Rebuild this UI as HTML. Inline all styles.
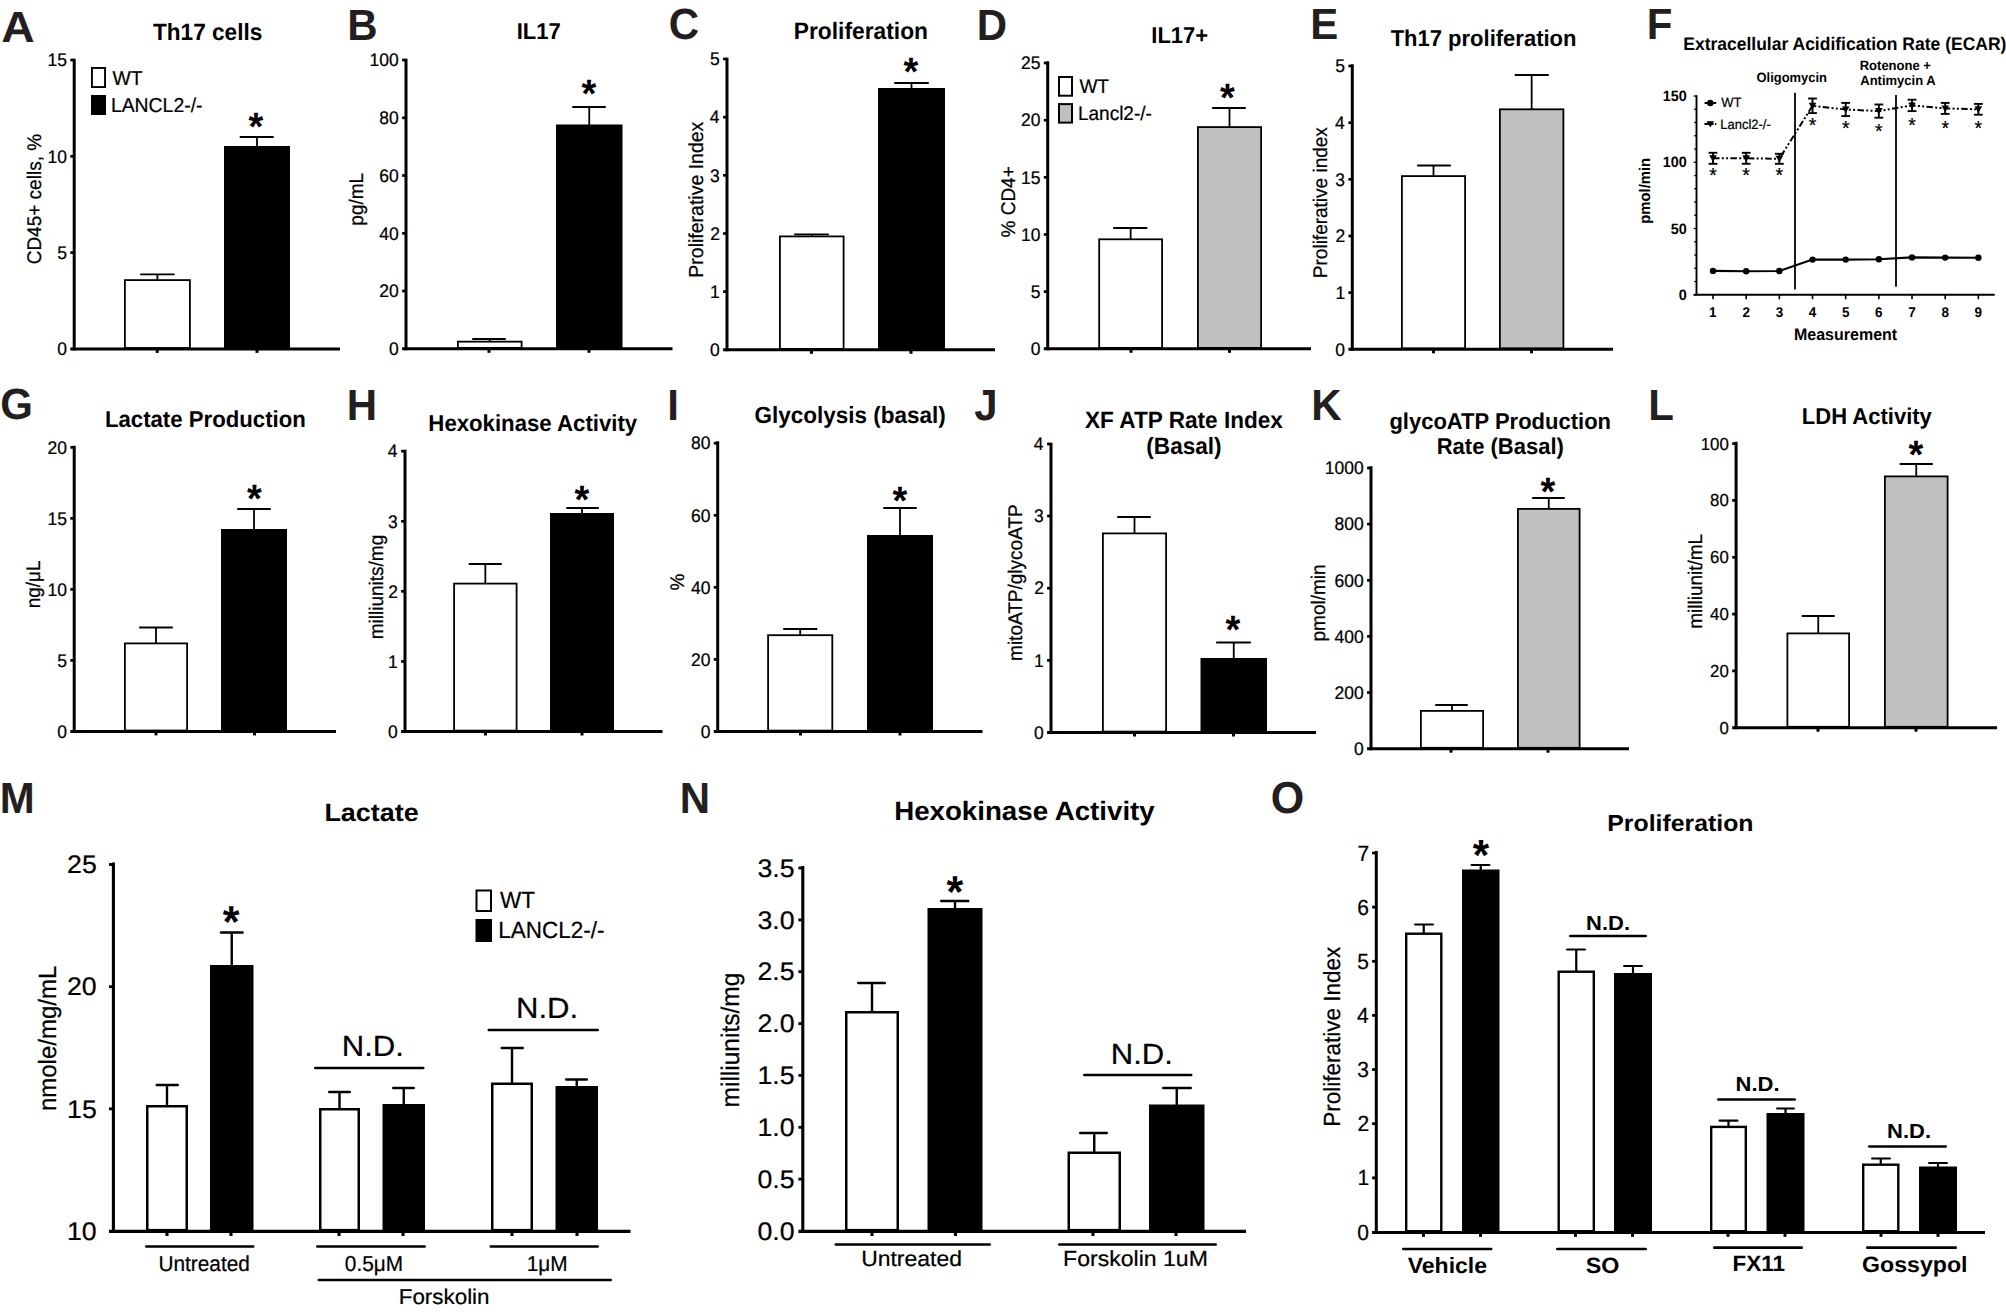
<!DOCTYPE html>
<html lang="en"><head><meta charset="utf-8"><title>Figure</title>
<style>html,body{margin:0;padding:0;background:#fff}svg{display:block}text{font-family:"Liberation Sans",sans-serif}</style>
</head><body>
<svg width="2006" height="1312" viewBox="0 0 2006 1312" text-rendering="geometricPrecision">
<rect width="2006" height="1312" fill="#fff"/>
<line x1="157.4" y1="274.3" x2="157.4" y2="280.2" stroke="#000" stroke-width="1.8" stroke-linecap="butt"/>
<line x1="140.9" y1="274.3" x2="173.9" y2="274.3" stroke="#000" stroke-width="1.8" stroke-linecap="round"/>
<rect x="124.9" y="280.1" width="65" height="67.9" fill="#fff" stroke="#000" stroke-width="1.8"/>
<line x1="257" y1="137" x2="257" y2="147" stroke="#000" stroke-width="1.8" stroke-linecap="butt"/>
<line x1="240.4" y1="137" x2="273.1" y2="137" stroke="#000" stroke-width="1.8" stroke-linecap="round"/>
<rect x="224" y="146" width="66" height="202.9" fill="#000"/>
<line x1="74.2" y1="58.65" x2="74.2" y2="350.4" stroke="#000" stroke-width="3" stroke-linecap="butt"/>
<line x1="70.3" y1="348.9" x2="340" y2="348.9" stroke="#000" stroke-width="3" stroke-linecap="butt"/>
<line x1="70.3" y1="60" x2="74.2" y2="60" stroke="#000" stroke-width="2.7" stroke-linecap="butt"/>
<text transform="translate(47.48,66.26) scale(1.0000,1.0400)" font-size="17.5" stroke="#000" stroke-width="0.22" fill="#000">15</text>
<line x1="70.3" y1="156.3" x2="74.2" y2="156.3" stroke="#000" stroke-width="2.7" stroke-linecap="butt"/>
<text transform="translate(47.43,162.56) scale(1.0000,1.0400)" font-size="17.5" stroke="#000" stroke-width="0.22" fill="#000">10</text>
<line x1="70.3" y1="252.6" x2="74.2" y2="252.6" stroke="#000" stroke-width="2.7" stroke-linecap="butt"/>
<text transform="translate(57.19,258.86) scale(1.0000,1.0400)" font-size="17.5" stroke="#000" stroke-width="0.22" fill="#000">5</text>
<text transform="translate(57.14,355.16) scale(1.0000,1.0400)" font-size="17.5" stroke="#000" stroke-width="0.22" fill="#000">0</text>
<line x1="157.2" y1="348.9" x2="157.2" y2="352.9" stroke="#000" stroke-width="3" stroke-linecap="butt"/>
<line x1="257" y1="348.9" x2="257" y2="352.9" stroke="#000" stroke-width="3" stroke-linecap="butt"/>
<text transform="translate(1.14,42.3) scale(1.1016,1.0400)" font-size="42" font-weight="bold" fill="#231f20">A</text>
<text transform="translate(153,39.7) scale(1.0000,1.0400)" font-size="22.6" font-weight="bold" fill="#000">Th17 cells</text>
<text transform="translate(41,199) rotate(-90) scale(1.0000,1.0400)" x="-65.34" font-size="19" stroke="#000" stroke-width="0.22" fill="#000">CD45+ cells, %</text>
<rect x="91.95" y="67.95" width="13.1" height="19.1" fill="#fff" stroke="#000" stroke-width="1.9"/>
<rect x="91" y="95" width="15" height="20" fill="#000"/>
<text transform="translate(112.4,84.5) scale(1.0000,1.0400)" font-size="19.4" stroke="#000" stroke-width="0.22" fill="#000">WT</text>
<text transform="translate(110.9,112) scale(1.0000,1.0400)" font-size="19.4" stroke="#000" stroke-width="0.22" fill="#000">LANCL2-/-</text>
<text transform="translate(248.59,139.81) scale(1.0000,1.0400)" font-size="38" font-weight="bold" fill="#000">*</text>
<line x1="489.75" y1="339" x2="489.75" y2="341.75" stroke="#000" stroke-width="1.8" stroke-linecap="butt"/>
<line x1="472.9" y1="339" x2="505.1" y2="339" stroke="#000" stroke-width="1.8" stroke-linecap="round"/>
<rect x="457.9" y="341.65" width="63.7" height="6.25" fill="#fff" stroke="#000" stroke-width="1.8"/>
<line x1="589.25" y1="107" x2="589.25" y2="125.5" stroke="#000" stroke-width="1.8" stroke-linecap="butt"/>
<line x1="572.9" y1="107" x2="605.1" y2="107" stroke="#000" stroke-width="1.8" stroke-linecap="round"/>
<rect x="556" y="124.5" width="66.5" height="224.3" fill="#000"/>
<line x1="406" y1="58.65" x2="406" y2="350.3" stroke="#000" stroke-width="3" stroke-linecap="butt"/>
<line x1="402.1" y1="348.8" x2="672.5" y2="348.8" stroke="#000" stroke-width="3" stroke-linecap="butt"/>
<line x1="402.1" y1="60" x2="406" y2="60" stroke="#000" stroke-width="2.7" stroke-linecap="butt"/>
<text transform="translate(369.48,66.26) scale(1.0000,1.0400)" font-size="17.5" stroke="#000" stroke-width="0.22" fill="#000">100</text>
<line x1="402.1" y1="117.8" x2="406" y2="117.8" stroke="#000" stroke-width="2.7" stroke-linecap="butt"/>
<text transform="translate(379.23,124.06) scale(1.0000,1.0400)" font-size="17.5" stroke="#000" stroke-width="0.22" fill="#000">80</text>
<line x1="402.1" y1="175.5" x2="406" y2="175.5" stroke="#000" stroke-width="2.7" stroke-linecap="butt"/>
<text transform="translate(379.23,181.76) scale(1.0000,1.0400)" font-size="17.5" stroke="#000" stroke-width="0.22" fill="#000">60</text>
<line x1="402.1" y1="233.3" x2="406" y2="233.3" stroke="#000" stroke-width="2.7" stroke-linecap="butt"/>
<text transform="translate(379.23,239.56) scale(1.0000,1.0400)" font-size="17.5" stroke="#000" stroke-width="0.22" fill="#000">40</text>
<line x1="402.1" y1="291" x2="406" y2="291" stroke="#000" stroke-width="2.7" stroke-linecap="butt"/>
<text transform="translate(379.23,297.26) scale(1.0000,1.0400)" font-size="17.5" stroke="#000" stroke-width="0.22" fill="#000">20</text>
<text transform="translate(388.94,355.06) scale(1.0000,1.0400)" font-size="17.5" stroke="#000" stroke-width="0.22" fill="#000">0</text>
<line x1="489" y1="348.8" x2="489" y2="352.8" stroke="#000" stroke-width="3" stroke-linecap="butt"/>
<line x1="589" y1="348.8" x2="589" y2="352.8" stroke="#000" stroke-width="3" stroke-linecap="butt"/>
<text transform="translate(347.17,40) scale(1.0000,1.0400)" font-size="42" font-weight="bold" fill="#231f20">B</text>
<text transform="translate(516.73,39.3) scale(1.0000,1.0400)" font-size="22" font-weight="bold" fill="#000">IL17</text>
<text transform="translate(363,199) rotate(-90) scale(1.0000,1.0400)" x="-26.7" font-size="19" stroke="#000" stroke-width="0.22" fill="#000">pg/mL</text>
<text transform="translate(581.59,107.31) scale(1.0000,1.0400)" font-size="38" font-weight="bold" fill="#000">*</text>
<line x1="811.75" y1="234.3" x2="811.75" y2="236.5" stroke="#000" stroke-width="1.8" stroke-linecap="butt"/>
<line x1="794.9" y1="234.3" x2="828.1" y2="234.3" stroke="#000" stroke-width="1.8" stroke-linecap="round"/>
<rect x="779.9" y="236.4" width="63.7" height="112.5" fill="#fff" stroke="#000" stroke-width="1.8"/>
<line x1="911.5" y1="83" x2="911.5" y2="89" stroke="#000" stroke-width="1.8" stroke-linecap="butt"/>
<line x1="894.9" y1="83" x2="928.1" y2="83" stroke="#000" stroke-width="1.8" stroke-linecap="round"/>
<rect x="878" y="88" width="67" height="261.8" fill="#000"/>
<line x1="727" y1="57.65" x2="727" y2="351.3" stroke="#000" stroke-width="3" stroke-linecap="butt"/>
<line x1="723.1" y1="349.8" x2="995" y2="349.8" stroke="#000" stroke-width="3" stroke-linecap="butt"/>
<line x1="723.1" y1="59" x2="727" y2="59" stroke="#000" stroke-width="2.7" stroke-linecap="butt"/>
<text transform="translate(709.99,65.26) scale(1.0000,1.0400)" font-size="17.5" stroke="#000" stroke-width="0.22" fill="#000">5</text>
<line x1="723.1" y1="117.2" x2="727" y2="117.2" stroke="#000" stroke-width="2.7" stroke-linecap="butt"/>
<text transform="translate(709.77,123.46) scale(1.0000,1.0400)" font-size="17.5" stroke="#000" stroke-width="0.22" fill="#000">4</text>
<line x1="723.1" y1="175.3" x2="727" y2="175.3" stroke="#000" stroke-width="2.7" stroke-linecap="butt"/>
<text transform="translate(710.03,181.56) scale(1.0000,1.0400)" font-size="17.5" stroke="#000" stroke-width="0.22" fill="#000">3</text>
<line x1="723.1" y1="233.5" x2="727" y2="233.5" stroke="#000" stroke-width="2.7" stroke-linecap="butt"/>
<text transform="translate(710.16,239.76) scale(1.0000,1.0400)" font-size="17.5" stroke="#000" stroke-width="0.22" fill="#000">2</text>
<line x1="723.1" y1="291.6" x2="727" y2="291.6" stroke="#000" stroke-width="2.7" stroke-linecap="butt"/>
<text transform="translate(710.12,297.86) scale(1.0000,1.0400)" font-size="17.5" stroke="#000" stroke-width="0.22" fill="#000">1</text>
<text transform="translate(709.94,356.06) scale(1.0000,1.0400)" font-size="17.5" stroke="#000" stroke-width="0.22" fill="#000">0</text>
<line x1="811.5" y1="349.8" x2="811.5" y2="353.8" stroke="#000" stroke-width="3" stroke-linecap="butt"/>
<line x1="911" y1="349.8" x2="911" y2="353.8" stroke="#000" stroke-width="3" stroke-linecap="butt"/>
<text transform="translate(668.82,39.3) scale(1.0000,1.0400)" font-size="42" font-weight="bold" fill="#231f20">C</text>
<text transform="translate(793.77,39.3) scale(1.0000,1.0400)" font-size="22.8" font-weight="bold" fill="#000">Proliferation</text>
<text transform="translate(702.5,199) rotate(-90) scale(1.0000,1.0400)" x="-78.73" font-size="19.5" stroke="#000" stroke-width="0.22" fill="#000">Proliferative Index</text>
<text transform="translate(903.59,85.31) scale(1.0000,1.0400)" font-size="38" font-weight="bold" fill="#000">*</text>
<line x1="1130.65" y1="228" x2="1130.65" y2="239.4" stroke="#000" stroke-width="1.8" stroke-linecap="butt"/>
<line x1="1113.9" y1="228" x2="1146.6" y2="228" stroke="#000" stroke-width="1.8" stroke-linecap="round"/>
<rect x="1099.2" y="239.3" width="62.9" height="108.6" fill="#fff" stroke="#000" stroke-width="1.8"/>
<line x1="1229.5" y1="108" x2="1229.5" y2="127.2" stroke="#000" stroke-width="1.8" stroke-linecap="butt"/>
<line x1="1212.9" y1="108" x2="1245.1" y2="108" stroke="#000" stroke-width="1.8" stroke-linecap="round"/>
<rect x="1197.9" y="127.1" width="63.2" height="220.8" fill="#c0c0c0" stroke="#000" stroke-width="1.8"/>
<line x1="1047.7" y1="61.15" x2="1047.7" y2="350.3" stroke="#000" stroke-width="3" stroke-linecap="butt"/>
<line x1="1043.8" y1="348.8" x2="1311" y2="348.8" stroke="#000" stroke-width="3" stroke-linecap="butt"/>
<line x1="1043.8" y1="63" x2="1047.7" y2="63" stroke="#000" stroke-width="2.7" stroke-linecap="butt"/>
<text transform="translate(1020.98,69.26) scale(1.0000,1.0400)" font-size="17.5" stroke="#000" stroke-width="0.22" fill="#000">25</text>
<line x1="1043.8" y1="120.2" x2="1047.7" y2="120.2" stroke="#000" stroke-width="2.7" stroke-linecap="butt"/>
<text transform="translate(1020.93,126.46) scale(1.0000,1.0400)" font-size="17.5" stroke="#000" stroke-width="0.22" fill="#000">20</text>
<line x1="1043.8" y1="177.3" x2="1047.7" y2="177.3" stroke="#000" stroke-width="2.7" stroke-linecap="butt"/>
<text transform="translate(1020.98,183.56) scale(1.0000,1.0400)" font-size="17.5" stroke="#000" stroke-width="0.22" fill="#000">15</text>
<line x1="1043.8" y1="234.5" x2="1047.7" y2="234.5" stroke="#000" stroke-width="2.7" stroke-linecap="butt"/>
<text transform="translate(1020.93,240.76) scale(1.0000,1.0400)" font-size="17.5" stroke="#000" stroke-width="0.22" fill="#000">10</text>
<line x1="1043.8" y1="291.6" x2="1047.7" y2="291.6" stroke="#000" stroke-width="2.7" stroke-linecap="butt"/>
<text transform="translate(1030.69,297.86) scale(1.0000,1.0400)" font-size="17.5" stroke="#000" stroke-width="0.22" fill="#000">5</text>
<text transform="translate(1030.64,355.06) scale(1.0000,1.0400)" font-size="17.5" stroke="#000" stroke-width="0.22" fill="#000">0</text>
<line x1="1131" y1="348.8" x2="1131" y2="352.8" stroke="#000" stroke-width="3" stroke-linecap="butt"/>
<line x1="1229.5" y1="348.8" x2="1229.5" y2="352.8" stroke="#000" stroke-width="3" stroke-linecap="butt"/>
<text transform="translate(976.66,39.5) scale(1.0000,1.0400)" font-size="42" font-weight="bold" fill="#231f20">D</text>
<text transform="translate(1151.29,42.5) scale(1.0000,1.0400)" font-size="22" font-weight="bold" fill="#000">IL17+</text>
<text transform="translate(1015,202) rotate(-90) scale(1.0000,1.0400)" x="-35.51" font-size="19" stroke="#000" stroke-width="0.22" fill="#000">% CD4+</text>
<rect x="1059" y="77" width="13" height="18.7" fill="#fff" stroke="#000" stroke-width="2"/>
<rect x="1059" y="104.1" width="13" height="18.5" fill="#c0c0c0" stroke="#000" stroke-width="2"/>
<text transform="translate(1079.4,93) scale(1.0000,1.0400)" font-size="19" stroke="#000" stroke-width="0.22" fill="#000">WT</text>
<text transform="translate(1077.93,120) scale(1.0000,1.0400)" font-size="19" stroke="#000" stroke-width="0.22" fill="#000">Lancl2-/-</text>
<text transform="translate(1220.09,111.31) scale(1.0000,1.0400)" font-size="38" font-weight="bold" fill="#000">*</text>
<line x1="1433.5" y1="165.5" x2="1433.5" y2="176.2" stroke="#000" stroke-width="1.8" stroke-linecap="butt"/>
<line x1="1417.9" y1="165.5" x2="1450.1" y2="165.5" stroke="#000" stroke-width="1.8" stroke-linecap="round"/>
<rect x="1401.9" y="176.1" width="63.2" height="172.3" fill="#fff" stroke="#000" stroke-width="1.8"/>
<line x1="1531.65" y1="75" x2="1531.65" y2="109.4" stroke="#000" stroke-width="1.8" stroke-linecap="butt"/>
<line x1="1515.4" y1="75" x2="1548.1" y2="75" stroke="#000" stroke-width="1.8" stroke-linecap="round"/>
<rect x="1499.9" y="109.3" width="63.5" height="239.1" fill="#c0c0c0" stroke="#000" stroke-width="1.8"/>
<line x1="1352.3" y1="64.15" x2="1352.3" y2="350.8" stroke="#000" stroke-width="3" stroke-linecap="butt"/>
<line x1="1348.4" y1="349.3" x2="1613" y2="349.3" stroke="#000" stroke-width="3" stroke-linecap="butt"/>
<line x1="1348.4" y1="66" x2="1352.3" y2="66" stroke="#000" stroke-width="2.7" stroke-linecap="butt"/>
<text transform="translate(1335.29,72.26) scale(1.0000,1.0400)" font-size="17.5" stroke="#000" stroke-width="0.22" fill="#000">5</text>
<line x1="1348.4" y1="122.7" x2="1352.3" y2="122.7" stroke="#000" stroke-width="2.7" stroke-linecap="butt"/>
<text transform="translate(1335.07,128.96) scale(1.0000,1.0400)" font-size="17.5" stroke="#000" stroke-width="0.22" fill="#000">4</text>
<line x1="1348.4" y1="179.3" x2="1352.3" y2="179.3" stroke="#000" stroke-width="2.7" stroke-linecap="butt"/>
<text transform="translate(1335.33,185.56) scale(1.0000,1.0400)" font-size="17.5" stroke="#000" stroke-width="0.22" fill="#000">3</text>
<line x1="1348.4" y1="236" x2="1352.3" y2="236" stroke="#000" stroke-width="2.7" stroke-linecap="butt"/>
<text transform="translate(1335.46,242.26) scale(1.0000,1.0400)" font-size="17.5" stroke="#000" stroke-width="0.22" fill="#000">2</text>
<line x1="1348.4" y1="292.6" x2="1352.3" y2="292.6" stroke="#000" stroke-width="2.7" stroke-linecap="butt"/>
<text transform="translate(1335.42,298.86) scale(1.0000,1.0400)" font-size="17.5" stroke="#000" stroke-width="0.22" fill="#000">1</text>
<text transform="translate(1335.24,355.56) scale(1.0000,1.0400)" font-size="17.5" stroke="#000" stroke-width="0.22" fill="#000">0</text>
<line x1="1433.5" y1="349.3" x2="1433.5" y2="353.3" stroke="#000" stroke-width="3" stroke-linecap="butt"/>
<line x1="1531.5" y1="349.3" x2="1531.5" y2="353.3" stroke="#000" stroke-width="3" stroke-linecap="butt"/>
<text transform="translate(1310.16,39) scale(1.0000,1.0400)" font-size="42" font-weight="bold" fill="#231f20">E</text>
<text transform="translate(1390.65,46) scale(1.0000,1.0400)" font-size="22" font-weight="bold" fill="#000">Th17 proliferation</text>
<text transform="translate(1326.5,202) rotate(-90) scale(1.0000,1.0400)" x="-76.17" font-size="19" stroke="#000" stroke-width="0.22" fill="#000">Proliferative index</text>
<text transform="translate(1646.87,38.5) scale(1.0000,1.0400)" font-size="42" font-weight="bold" fill="#231f20">F</text>
<text transform="translate(1683.22,49.7) scale(1.0000,1.0400)" font-size="17.5" font-weight="bold" fill="#000">Extracellular Acidification Rate (ECAR)</text>
<text transform="translate(1756.48,81.6) scale(1.0000,1.0400)" font-size="12.95" font-weight="bold" fill="#000">Oligomycin</text>
<text transform="translate(1859.72,69.8) scale(1.0000,1.0400)" font-size="13" font-weight="bold" fill="#000">Rotenone +</text>
<text transform="translate(1860.27,84.8) scale(1.0000,1.0400)" font-size="13" font-weight="bold" fill="#000">Antimycin A</text>
<line x1="1696.5" y1="95.2" x2="1696.5" y2="295.7" stroke="#000" stroke-width="1.9" stroke-linecap="butt"/>
<line x1="1693.7" y1="294.8" x2="1994.7" y2="294.8" stroke="#000" stroke-width="1.9" stroke-linecap="butt"/>
<line x1="1693.6" y1="294.8" x2="1696.5" y2="294.8" stroke="#000" stroke-width="1.3" stroke-linecap="butt"/>
<line x1="1694.2" y1="281.55" x2="1696.5" y2="281.55" stroke="#000" stroke-width="1.3" stroke-linecap="butt"/>
<line x1="1694.2" y1="268.29" x2="1696.5" y2="268.29" stroke="#000" stroke-width="1.3" stroke-linecap="butt"/>
<line x1="1694.2" y1="255.04" x2="1696.5" y2="255.04" stroke="#000" stroke-width="1.3" stroke-linecap="butt"/>
<line x1="1694.2" y1="241.79" x2="1696.5" y2="241.79" stroke="#000" stroke-width="1.3" stroke-linecap="butt"/>
<line x1="1693.6" y1="228.53" x2="1696.5" y2="228.53" stroke="#000" stroke-width="1.3" stroke-linecap="butt"/>
<line x1="1694.2" y1="215.28" x2="1696.5" y2="215.28" stroke="#000" stroke-width="1.3" stroke-linecap="butt"/>
<line x1="1694.2" y1="202.03" x2="1696.5" y2="202.03" stroke="#000" stroke-width="1.3" stroke-linecap="butt"/>
<line x1="1694.2" y1="188.77" x2="1696.5" y2="188.77" stroke="#000" stroke-width="1.3" stroke-linecap="butt"/>
<line x1="1694.2" y1="175.52" x2="1696.5" y2="175.52" stroke="#000" stroke-width="1.3" stroke-linecap="butt"/>
<line x1="1693.6" y1="162.27" x2="1696.5" y2="162.27" stroke="#000" stroke-width="1.3" stroke-linecap="butt"/>
<line x1="1694.2" y1="149.01" x2="1696.5" y2="149.01" stroke="#000" stroke-width="1.3" stroke-linecap="butt"/>
<line x1="1694.2" y1="135.76" x2="1696.5" y2="135.76" stroke="#000" stroke-width="1.3" stroke-linecap="butt"/>
<line x1="1694.2" y1="122.51" x2="1696.5" y2="122.51" stroke="#000" stroke-width="1.3" stroke-linecap="butt"/>
<line x1="1694.2" y1="109.25" x2="1696.5" y2="109.25" stroke="#000" stroke-width="1.3" stroke-linecap="butt"/>
<line x1="1693.6" y1="96" x2="1696.5" y2="96" stroke="#000" stroke-width="1.3" stroke-linecap="butt"/>
<text transform="translate(1662.76,101.15) scale(1.0000,1.0400)" font-size="14.4" font-weight="bold" fill="#000">150</text>
<text transform="translate(1662.76,167.42) scale(1.0000,1.0400)" font-size="14.4" font-weight="bold" fill="#000">100</text>
<text transform="translate(1670.79,233.69) scale(1.0000,1.0400)" font-size="14.4" font-weight="bold" fill="#000">50</text>
<text transform="translate(1678.78,299.95) scale(1.0000,1.0400)" font-size="14.4" font-weight="bold" fill="#000">0</text>
<line x1="1713" y1="294.8" x2="1713" y2="299.3" stroke="#000" stroke-width="1.6" stroke-linecap="butt"/>
<text transform="translate(1709.02,317.3) scale(1.0000,1.0400)" font-size="13.5" font-weight="bold" fill="#000">1</text>
<line x1="1746.17" y1="294.8" x2="1746.17" y2="299.3" stroke="#000" stroke-width="1.6" stroke-linecap="butt"/>
<text transform="translate(1742.46,317.3) scale(1.0000,1.0400)" font-size="13.5" font-weight="bold" fill="#000">2</text>
<line x1="1779.34" y1="294.8" x2="1779.34" y2="299.3" stroke="#000" stroke-width="1.6" stroke-linecap="butt"/>
<text transform="translate(1775.68,317.3) scale(1.0000,1.0400)" font-size="13.5" font-weight="bold" fill="#000">3</text>
<line x1="1812.51" y1="294.8" x2="1812.51" y2="299.3" stroke="#000" stroke-width="1.6" stroke-linecap="butt"/>
<text transform="translate(1808.7,317.3) scale(1.0000,1.0400)" font-size="13.5" font-weight="bold" fill="#000">4</text>
<line x1="1845.68" y1="294.8" x2="1845.68" y2="299.3" stroke="#000" stroke-width="1.6" stroke-linecap="butt"/>
<text transform="translate(1841.92,317.3) scale(1.0000,1.0400)" font-size="13.5" font-weight="bold" fill="#000">5</text>
<line x1="1878.85" y1="294.8" x2="1878.85" y2="299.3" stroke="#000" stroke-width="1.6" stroke-linecap="butt"/>
<text transform="translate(1875.09,317.3) scale(1.0000,1.0400)" font-size="13.5" font-weight="bold" fill="#000">6</text>
<line x1="1912.02" y1="294.8" x2="1912.02" y2="299.3" stroke="#000" stroke-width="1.6" stroke-linecap="butt"/>
<text transform="translate(1908.27,317.3) scale(1.0000,1.0400)" font-size="13.5" font-weight="bold" fill="#000">7</text>
<line x1="1945.19" y1="294.8" x2="1945.19" y2="299.3" stroke="#000" stroke-width="1.6" stroke-linecap="butt"/>
<text transform="translate(1941.43,317.3) scale(1.0000,1.0400)" font-size="13.5" font-weight="bold" fill="#000">8</text>
<line x1="1978.36" y1="294.8" x2="1978.36" y2="299.3" stroke="#000" stroke-width="1.6" stroke-linecap="butt"/>
<text transform="translate(1974.61,317.3) scale(1.0000,1.0400)" font-size="13.5" font-weight="bold" fill="#000">9</text>
<text transform="translate(1793.98,339.7) scale(1.0000,1.0400)" font-size="16" font-weight="bold" fill="#000">Measurement</text>
<text transform="translate(1650,190.8) rotate(-90) scale(1.0000,1.0400)" x="-32.91" font-size="14.8" font-weight="bold" fill="#000">pmol/min</text>
<line x1="1795" y1="92.8" x2="1795" y2="289.4" stroke="#000" stroke-width="1.8" stroke-linecap="butt"/>
<line x1="1896" y1="95" x2="1896" y2="286.8" stroke="#000" stroke-width="1.8" stroke-linecap="butt"/>
<polyline fill="none" stroke="#000" stroke-width="2.1" points="1713,270.9 1746.17,271.3 1779.34,271 1812.51,259.6 1845.68,259.6 1878.85,259.3 1912.02,257.4 1945.19,257.6 1978.36,257.8"/>
<circle cx="1713" cy="270.9" r="3.2" fill="#000"/>
<circle cx="1746.17" cy="271.3" r="3.2" fill="#000"/>
<circle cx="1779.34" cy="271" r="3.2" fill="#000"/>
<circle cx="1812.51" cy="259.6" r="3.2" fill="#000"/>
<circle cx="1845.68" cy="259.6" r="3.2" fill="#000"/>
<circle cx="1878.85" cy="259.3" r="3.2" fill="#000"/>
<circle cx="1912.02" cy="257.4" r="3.2" fill="#000"/>
<circle cx="1945.19" cy="257.6" r="3.2" fill="#000"/>
<circle cx="1978.36" cy="257.8" r="3.2" fill="#000"/>
<polyline fill="none" stroke="#000" stroke-width="2" stroke-dasharray="6.5 2.3 2 2.3 2 2.3" points="1713,158.3 1746.17,158.3 1779.34,158.8 1812.51,105.8 1845.68,109.5 1878.85,111.1 1912.02,105.4 1945.19,108.4 1978.36,109.3"/>
<line x1="1713" y1="152.8" x2="1713" y2="163.8" stroke="#000" stroke-width="1.9" stroke-linecap="butt"/>
<line x1="1708.6" y1="152.8" x2="1717.4" y2="152.8" stroke="#000" stroke-width="1.9" stroke-linecap="butt"/>
<line x1="1708.6" y1="163.8" x2="1717.4" y2="163.8" stroke="#000" stroke-width="1.9" stroke-linecap="butt"/>
<path d="M1709.2 155.3 h7.6 l-3.8 6.6 z" fill="#000"/>
<text transform="translate(1709.2,182.09) scale(1.0000,1.0400)" font-size="19.5" stroke="#000" stroke-width="0.22" fill="#000">*</text>
<line x1="1746.17" y1="152.8" x2="1746.17" y2="163.8" stroke="#000" stroke-width="1.9" stroke-linecap="butt"/>
<line x1="1741.77" y1="152.8" x2="1750.57" y2="152.8" stroke="#000" stroke-width="1.9" stroke-linecap="butt"/>
<line x1="1741.77" y1="163.8" x2="1750.57" y2="163.8" stroke="#000" stroke-width="1.9" stroke-linecap="butt"/>
<path d="M1742.37 155.3 h7.6 l-3.8 6.6 z" fill="#000"/>
<text transform="translate(1742.37,182.09) scale(1.0000,1.0400)" font-size="19.5" stroke="#000" stroke-width="0.22" fill="#000">*</text>
<line x1="1779.34" y1="153.8" x2="1779.34" y2="163.8" stroke="#000" stroke-width="1.9" stroke-linecap="butt"/>
<line x1="1774.94" y1="153.8" x2="1783.74" y2="153.8" stroke="#000" stroke-width="1.9" stroke-linecap="butt"/>
<line x1="1774.94" y1="163.8" x2="1783.74" y2="163.8" stroke="#000" stroke-width="1.9" stroke-linecap="butt"/>
<path d="M1775.54 155.8 h7.6 l-3.8 6.6 z" fill="#000"/>
<text transform="translate(1775.54,182.09) scale(1.0000,1.0400)" font-size="19.5" stroke="#000" stroke-width="0.22" fill="#000">*</text>
<line x1="1812.51" y1="98.5" x2="1812.51" y2="113.1" stroke="#000" stroke-width="1.9" stroke-linecap="butt"/>
<line x1="1808.11" y1="98.5" x2="1816.91" y2="98.5" stroke="#000" stroke-width="1.9" stroke-linecap="butt"/>
<line x1="1808.11" y1="113.1" x2="1816.91" y2="113.1" stroke="#000" stroke-width="1.9" stroke-linecap="butt"/>
<path d="M1808.71 102.8 h7.6 l-3.8 6.6 z" fill="#000"/>
<text transform="translate(1808.71,132.09) scale(1.0000,1.0400)" font-size="19.5" stroke="#000" stroke-width="0.22" fill="#000">*</text>
<line x1="1845.68" y1="102.9" x2="1845.68" y2="116.1" stroke="#000" stroke-width="1.9" stroke-linecap="butt"/>
<line x1="1841.28" y1="102.9" x2="1850.08" y2="102.9" stroke="#000" stroke-width="1.9" stroke-linecap="butt"/>
<line x1="1841.28" y1="116.1" x2="1850.08" y2="116.1" stroke="#000" stroke-width="1.9" stroke-linecap="butt"/>
<path d="M1841.88 106.5 h7.6 l-3.8 6.6 z" fill="#000"/>
<text transform="translate(1841.88,135.09) scale(1.0000,1.0400)" font-size="19.5" stroke="#000" stroke-width="0.22" fill="#000">*</text>
<line x1="1878.85" y1="104.5" x2="1878.85" y2="117.7" stroke="#000" stroke-width="1.9" stroke-linecap="butt"/>
<line x1="1874.45" y1="104.5" x2="1883.25" y2="104.5" stroke="#000" stroke-width="1.9" stroke-linecap="butt"/>
<line x1="1874.45" y1="117.7" x2="1883.25" y2="117.7" stroke="#000" stroke-width="1.9" stroke-linecap="butt"/>
<path d="M1875.05 108.1 h7.6 l-3.8 6.6 z" fill="#000"/>
<text transform="translate(1875.05,138.09) scale(1.0000,1.0400)" font-size="19.5" stroke="#000" stroke-width="0.22" fill="#000">*</text>
<line x1="1912.02" y1="99.7" x2="1912.02" y2="111.1" stroke="#000" stroke-width="1.9" stroke-linecap="butt"/>
<line x1="1907.62" y1="99.7" x2="1916.42" y2="99.7" stroke="#000" stroke-width="1.9" stroke-linecap="butt"/>
<line x1="1907.62" y1="111.1" x2="1916.42" y2="111.1" stroke="#000" stroke-width="1.9" stroke-linecap="butt"/>
<path d="M1908.22 102.4 h7.6 l-3.8 6.6 z" fill="#000"/>
<text transform="translate(1908.22,132.09) scale(1.0000,1.0400)" font-size="19.5" stroke="#000" stroke-width="0.22" fill="#000">*</text>
<line x1="1945.19" y1="102.9" x2="1945.19" y2="113.9" stroke="#000" stroke-width="1.9" stroke-linecap="butt"/>
<line x1="1940.79" y1="102.9" x2="1949.59" y2="102.9" stroke="#000" stroke-width="1.9" stroke-linecap="butt"/>
<line x1="1940.79" y1="113.9" x2="1949.59" y2="113.9" stroke="#000" stroke-width="1.9" stroke-linecap="butt"/>
<path d="M1941.39 105.4 h7.6 l-3.8 6.6 z" fill="#000"/>
<text transform="translate(1941.39,135.09) scale(1.0000,1.0400)" font-size="19.5" stroke="#000" stroke-width="0.22" fill="#000">*</text>
<line x1="1978.36" y1="103.9" x2="1978.36" y2="114.7" stroke="#000" stroke-width="1.9" stroke-linecap="butt"/>
<line x1="1973.96" y1="103.9" x2="1982.76" y2="103.9" stroke="#000" stroke-width="1.9" stroke-linecap="butt"/>
<line x1="1973.96" y1="114.7" x2="1982.76" y2="114.7" stroke="#000" stroke-width="1.9" stroke-linecap="butt"/>
<path d="M1974.56 106.3 h7.6 l-3.8 6.6 z" fill="#000"/>
<text transform="translate(1974.56,135.09) scale(1.0000,1.0400)" font-size="19.5" stroke="#000" stroke-width="0.22" fill="#000">*</text>
<line x1="1704.6" y1="103" x2="1716.2" y2="103" stroke="#000" stroke-width="2" stroke-linecap="butt"/>
<circle cx="1710.3" cy="103" r="3.2" fill="#000"/>
<text transform="translate(1721.23,107) scale(1.0000,1.0400)" font-size="13" stroke="#000" stroke-width="0.22" fill="#000">WT</text>
<line x1="1704.4" y1="124" x2="1713.6" y2="124" stroke="#000" stroke-width="2" stroke-linecap="butt"/>
<line x1="1715" y1="124" x2="1716.3" y2="124" stroke="#000" stroke-width="2" stroke-linecap="butt"/>
<path d="M1706.5 121.2 h7.6 l-3.8 6.4 z" fill="#000"/>
<text transform="translate(1720.23,129) scale(1.0000,1.0400)" font-size="13" stroke="#000" stroke-width="0.22" fill="#000">Lancl2-/-</text>
<line x1="156" y1="627.5" x2="156" y2="643.5" stroke="#000" stroke-width="1.8" stroke-linecap="butt"/>
<line x1="139.9" y1="627.5" x2="172.1" y2="627.5" stroke="#000" stroke-width="1.8" stroke-linecap="round"/>
<rect x="124.9" y="643.4" width="62.2" height="87.1" fill="#fff" stroke="#000" stroke-width="1.8"/>
<line x1="254" y1="509" x2="254" y2="530" stroke="#000" stroke-width="1.8" stroke-linecap="butt"/>
<line x1="237.9" y1="509" x2="270.1" y2="509" stroke="#000" stroke-width="1.8" stroke-linecap="round"/>
<rect x="221" y="529" width="66" height="202.4" fill="#000"/>
<line x1="74.2" y1="445.85" x2="74.2" y2="732.9" stroke="#000" stroke-width="3" stroke-linecap="butt"/>
<line x1="70.3" y1="731.4" x2="336" y2="731.4" stroke="#000" stroke-width="3" stroke-linecap="butt"/>
<line x1="70.3" y1="447.4" x2="74.2" y2="447.4" stroke="#000" stroke-width="2.7" stroke-linecap="butt"/>
<text transform="translate(47.43,453.66) scale(1.0000,1.0400)" font-size="17.5" stroke="#000" stroke-width="0.22" fill="#000">20</text>
<line x1="70.3" y1="518.4" x2="74.2" y2="518.4" stroke="#000" stroke-width="2.7" stroke-linecap="butt"/>
<text transform="translate(47.48,524.66) scale(1.0000,1.0400)" font-size="17.5" stroke="#000" stroke-width="0.22" fill="#000">15</text>
<line x1="70.3" y1="589.4" x2="74.2" y2="589.4" stroke="#000" stroke-width="2.7" stroke-linecap="butt"/>
<text transform="translate(47.43,595.66) scale(1.0000,1.0400)" font-size="17.5" stroke="#000" stroke-width="0.22" fill="#000">10</text>
<line x1="70.3" y1="660.4" x2="74.2" y2="660.4" stroke="#000" stroke-width="2.7" stroke-linecap="butt"/>
<text transform="translate(57.19,666.66) scale(1.0000,1.0400)" font-size="17.5" stroke="#000" stroke-width="0.22" fill="#000">5</text>
<text transform="translate(57.14,737.66) scale(1.0000,1.0400)" font-size="17.5" stroke="#000" stroke-width="0.22" fill="#000">0</text>
<line x1="156" y1="731.4" x2="156" y2="735.4" stroke="#000" stroke-width="3" stroke-linecap="butt"/>
<line x1="254.5" y1="731.4" x2="254.5" y2="735.4" stroke="#000" stroke-width="3" stroke-linecap="butt"/>
<text transform="translate(0.32,418.7) scale(1.0000,1.0400)" font-size="42" font-weight="bold" fill="#231f20">G</text>
<text transform="translate(104.91,426.5) scale(1.0000,1.0400)" font-size="22.2" font-weight="bold" fill="#000">Lactate Production</text>
<text transform="translate(40,584) rotate(-90) scale(1.0000,1.0400)" x="-24.3" font-size="19" stroke="#000" stroke-width="0.22" fill="#000">ng/μL</text>
<text transform="translate(247.09,512.31) scale(1.0000,1.0400)" font-size="38" font-weight="bold" fill="#000">*</text>
<line x1="485.35" y1="564" x2="485.35" y2="583.7" stroke="#000" stroke-width="1.8" stroke-linecap="butt"/>
<line x1="469.4" y1="564" x2="501.1" y2="564" stroke="#000" stroke-width="1.8" stroke-linecap="round"/>
<rect x="454.1" y="583.6" width="62.5" height="147" fill="#fff" stroke="#000" stroke-width="1.8"/>
<line x1="582" y1="508" x2="582" y2="514" stroke="#000" stroke-width="1.8" stroke-linecap="butt"/>
<line x1="566.9" y1="508" x2="598.1" y2="508" stroke="#000" stroke-width="1.8" stroke-linecap="round"/>
<rect x="550" y="513" width="64" height="218.5" fill="#000"/>
<line x1="405" y1="449.65" x2="405" y2="733" stroke="#000" stroke-width="3" stroke-linecap="butt"/>
<line x1="401.1" y1="731.5" x2="662.5" y2="731.5" stroke="#000" stroke-width="3" stroke-linecap="butt"/>
<line x1="401.1" y1="451.2" x2="405" y2="451.2" stroke="#000" stroke-width="2.7" stroke-linecap="butt"/>
<text transform="translate(387.77,457.46) scale(1.0000,1.0400)" font-size="17.5" stroke="#000" stroke-width="0.22" fill="#000">4</text>
<line x1="401.1" y1="521.3" x2="405" y2="521.3" stroke="#000" stroke-width="2.7" stroke-linecap="butt"/>
<text transform="translate(388.03,527.56) scale(1.0000,1.0400)" font-size="17.5" stroke="#000" stroke-width="0.22" fill="#000">3</text>
<line x1="401.1" y1="591.3" x2="405" y2="591.3" stroke="#000" stroke-width="2.7" stroke-linecap="butt"/>
<text transform="translate(388.16,597.56) scale(1.0000,1.0400)" font-size="17.5" stroke="#000" stroke-width="0.22" fill="#000">2</text>
<line x1="401.1" y1="661.4" x2="405" y2="661.4" stroke="#000" stroke-width="2.7" stroke-linecap="butt"/>
<text transform="translate(388.12,667.66) scale(1.0000,1.0400)" font-size="17.5" stroke="#000" stroke-width="0.22" fill="#000">1</text>
<text transform="translate(387.94,737.76) scale(1.0000,1.0400)" font-size="17.5" stroke="#000" stroke-width="0.22" fill="#000">0</text>
<line x1="485.5" y1="731.5" x2="485.5" y2="735.5" stroke="#000" stroke-width="3" stroke-linecap="butt"/>
<line x1="582" y1="731.5" x2="582" y2="735.5" stroke="#000" stroke-width="3" stroke-linecap="butt"/>
<text transform="translate(346.87,420) scale(1.0000,1.0400)" font-size="42" font-weight="bold" fill="#231f20">H</text>
<text transform="translate(428.36,431) scale(1.0000,1.0400)" font-size="22.2" font-weight="bold" fill="#000">Hexokinase Activity</text>
<text transform="translate(382.5,587) rotate(-90) scale(1.0000,1.0400)" x="-52.3" font-size="19" stroke="#000" stroke-width="0.22" fill="#000">milliunits/mg</text>
<text transform="translate(574.59,513.31) scale(1.0000,1.0400)" font-size="38" font-weight="bold" fill="#000">*</text>
<line x1="800.2" y1="629" x2="800.2" y2="635.3" stroke="#000" stroke-width="1.8" stroke-linecap="butt"/>
<line x1="783.9" y1="629" x2="816.6" y2="629" stroke="#000" stroke-width="1.8" stroke-linecap="round"/>
<rect x="768.1" y="635.2" width="64.2" height="95.4" fill="#fff" stroke="#000" stroke-width="1.8"/>
<line x1="900" y1="508" x2="900" y2="536" stroke="#000" stroke-width="1.8" stroke-linecap="butt"/>
<line x1="883.9" y1="508" x2="916.1" y2="508" stroke="#000" stroke-width="1.8" stroke-linecap="round"/>
<rect x="867" y="535" width="66" height="196.5" fill="#000"/>
<line x1="717.7" y1="441.35" x2="717.7" y2="733" stroke="#000" stroke-width="3" stroke-linecap="butt"/>
<line x1="713.8" y1="731.5" x2="982.5" y2="731.5" stroke="#000" stroke-width="3" stroke-linecap="butt"/>
<line x1="713.8" y1="443.2" x2="717.7" y2="443.2" stroke="#000" stroke-width="2.7" stroke-linecap="butt"/>
<text transform="translate(690.93,449.46) scale(1.0000,1.0400)" font-size="17.5" stroke="#000" stroke-width="0.22" fill="#000">80</text>
<line x1="713.8" y1="515.3" x2="717.7" y2="515.3" stroke="#000" stroke-width="2.7" stroke-linecap="butt"/>
<text transform="translate(690.93,521.56) scale(1.0000,1.0400)" font-size="17.5" stroke="#000" stroke-width="0.22" fill="#000">60</text>
<line x1="713.8" y1="587.3" x2="717.7" y2="587.3" stroke="#000" stroke-width="2.7" stroke-linecap="butt"/>
<text transform="translate(690.93,593.56) scale(1.0000,1.0400)" font-size="17.5" stroke="#000" stroke-width="0.22" fill="#000">40</text>
<line x1="713.8" y1="659.4" x2="717.7" y2="659.4" stroke="#000" stroke-width="2.7" stroke-linecap="butt"/>
<text transform="translate(690.93,665.66) scale(1.0000,1.0400)" font-size="17.5" stroke="#000" stroke-width="0.22" fill="#000">20</text>
<text transform="translate(700.64,737.76) scale(1.0000,1.0400)" font-size="17.5" stroke="#000" stroke-width="0.22" fill="#000">0</text>
<line x1="800.5" y1="731.5" x2="800.5" y2="735.5" stroke="#000" stroke-width="3" stroke-linecap="butt"/>
<line x1="900" y1="731.5" x2="900" y2="735.5" stroke="#000" stroke-width="3" stroke-linecap="butt"/>
<text transform="translate(667.16,419.5) scale(1.0000,1.0400)" font-size="42" font-weight="bold" fill="#231f20">I</text>
<text transform="translate(754.46,422.6) scale(1.0000,1.0400)" font-size="22.5" font-weight="bold" fill="#000">Glycolysis (basal)</text>
<text transform="translate(684,582) rotate(-90) scale(1.0000,1.0400)" x="-8.43" font-size="19" stroke="#000" stroke-width="0.22" fill="#000">%</text>
<text transform="translate(892.59,513.81) scale(1.0000,1.0400)" font-size="38" font-weight="bold" fill="#000">*</text>
<line x1="1134.5" y1="517" x2="1134.5" y2="533.5" stroke="#000" stroke-width="1.8" stroke-linecap="butt"/>
<line x1="1117.9" y1="517" x2="1150.1" y2="517" stroke="#000" stroke-width="1.8" stroke-linecap="round"/>
<rect x="1102.9" y="533.4" width="63.2" height="198.2" fill="#fff" stroke="#000" stroke-width="1.8"/>
<line x1="1233.75" y1="642.5" x2="1233.75" y2="659" stroke="#000" stroke-width="1.8" stroke-linecap="butt"/>
<line x1="1216.9" y1="642.5" x2="1250.1" y2="642.5" stroke="#000" stroke-width="1.8" stroke-linecap="round"/>
<rect x="1200.5" y="658" width="66.5" height="74.5" fill="#000"/>
<line x1="1051" y1="442.65" x2="1051" y2="734" stroke="#000" stroke-width="3" stroke-linecap="butt"/>
<line x1="1047.1" y1="732.5" x2="1316" y2="732.5" stroke="#000" stroke-width="3" stroke-linecap="butt"/>
<line x1="1047.1" y1="444" x2="1051" y2="444" stroke="#000" stroke-width="2.7" stroke-linecap="butt"/>
<text transform="translate(1033.77,450.26) scale(1.0000,1.0400)" font-size="17.5" stroke="#000" stroke-width="0.22" fill="#000">4</text>
<line x1="1047.1" y1="516" x2="1051" y2="516" stroke="#000" stroke-width="2.7" stroke-linecap="butt"/>
<text transform="translate(1034.03,522.26) scale(1.0000,1.0400)" font-size="17.5" stroke="#000" stroke-width="0.22" fill="#000">3</text>
<line x1="1047.1" y1="588.2" x2="1051" y2="588.2" stroke="#000" stroke-width="2.7" stroke-linecap="butt"/>
<text transform="translate(1034.16,594.46) scale(1.0000,1.0400)" font-size="17.5" stroke="#000" stroke-width="0.22" fill="#000">2</text>
<line x1="1047.1" y1="660.4" x2="1051" y2="660.4" stroke="#000" stroke-width="2.7" stroke-linecap="butt"/>
<text transform="translate(1034.12,666.66) scale(1.0000,1.0400)" font-size="17.5" stroke="#000" stroke-width="0.22" fill="#000">1</text>
<text transform="translate(1033.94,738.76) scale(1.0000,1.0400)" font-size="17.5" stroke="#000" stroke-width="0.22" fill="#000">0</text>
<line x1="1134.5" y1="732.5" x2="1134.5" y2="736.5" stroke="#000" stroke-width="3" stroke-linecap="butt"/>
<line x1="1233.5" y1="732.5" x2="1233.5" y2="736.5" stroke="#000" stroke-width="3" stroke-linecap="butt"/>
<text transform="translate(974.37,419.7) scale(1.0000,1.0400)" font-size="42" font-weight="bold" fill="#231f20">J</text>
<text transform="translate(1084.98,427.5) scale(1.0000,1.0400)" font-size="22.6" font-weight="bold" fill="#000">XF ATP Rate Index</text>
<text transform="translate(1146.31,454) scale(1.0000,1.0400)" font-size="22.6" font-weight="bold" fill="#000">(Basal)</text>
<text transform="translate(1021.5,582.5) rotate(-90) scale(1.0000,1.0400)" x="-78.45" font-size="19" stroke="#000" stroke-width="0.22" fill="#000">mitoATP/glycoATP</text>
<text transform="translate(1225.59,642.81) scale(1.0000,1.0400)" font-size="38" font-weight="bold" fill="#000">*</text>
<line x1="1452" y1="705" x2="1452" y2="711" stroke="#000" stroke-width="1.8" stroke-linecap="butt"/>
<line x1="1435.9" y1="705" x2="1467.1" y2="705" stroke="#000" stroke-width="1.8" stroke-linecap="round"/>
<rect x="1420.9" y="710.9" width="62.2" height="36.9" fill="#fff" stroke="#000" stroke-width="1.8"/>
<line x1="1548.75" y1="498" x2="1548.75" y2="509" stroke="#000" stroke-width="1.8" stroke-linecap="butt"/>
<line x1="1532.9" y1="498" x2="1564.1" y2="498" stroke="#000" stroke-width="1.8" stroke-linecap="round"/>
<rect x="1517.9" y="508.9" width="61.7" height="238.9" fill="#c0c0c0" stroke="#000" stroke-width="1.8"/>
<line x1="1371" y1="466.15" x2="1371" y2="750.2" stroke="#000" stroke-width="3" stroke-linecap="butt"/>
<line x1="1367.1" y1="748.7" x2="1629" y2="748.7" stroke="#000" stroke-width="3" stroke-linecap="butt"/>
<line x1="1367.1" y1="468" x2="1371" y2="468" stroke="#000" stroke-width="2.7" stroke-linecap="butt"/>
<text transform="translate(1324.76,474.26) scale(1.0000,1.0400)" font-size="17.5" stroke="#000" stroke-width="0.22" fill="#000">1000</text>
<line x1="1367.1" y1="524.1" x2="1371" y2="524.1" stroke="#000" stroke-width="2.7" stroke-linecap="butt"/>
<text transform="translate(1334.47,530.36) scale(1.0000,1.0400)" font-size="17.5" stroke="#000" stroke-width="0.22" fill="#000">800</text>
<line x1="1367.1" y1="580.3" x2="1371" y2="580.3" stroke="#000" stroke-width="2.7" stroke-linecap="butt"/>
<text transform="translate(1334.47,586.56) scale(1.0000,1.0400)" font-size="17.5" stroke="#000" stroke-width="0.22" fill="#000">600</text>
<line x1="1367.1" y1="636.4" x2="1371" y2="636.4" stroke="#000" stroke-width="2.7" stroke-linecap="butt"/>
<text transform="translate(1334.47,642.66) scale(1.0000,1.0400)" font-size="17.5" stroke="#000" stroke-width="0.22" fill="#000">400</text>
<line x1="1367.1" y1="692.5" x2="1371" y2="692.5" stroke="#000" stroke-width="2.7" stroke-linecap="butt"/>
<text transform="translate(1334.47,698.76) scale(1.0000,1.0400)" font-size="17.5" stroke="#000" stroke-width="0.22" fill="#000">200</text>
<text transform="translate(1353.94,754.96) scale(1.0000,1.0400)" font-size="17.5" stroke="#000" stroke-width="0.22" fill="#000">0</text>
<line x1="1451" y1="748.7" x2="1451" y2="752.7" stroke="#000" stroke-width="3" stroke-linecap="butt"/>
<line x1="1548" y1="748.7" x2="1548" y2="752.7" stroke="#000" stroke-width="3" stroke-linecap="butt"/>
<text transform="translate(1311.16,419.7) scale(1.0000,1.0400)" font-size="42" font-weight="bold" fill="#231f20">K</text>
<text transform="translate(1389.39,428.7) scale(1.0000,1.0400)" font-size="22" font-weight="bold" fill="#000">glycoATP Production</text>
<text transform="translate(1436.73,454) scale(1.0000,1.0400)" font-size="22" font-weight="bold" fill="#000">Rate (Basal)</text>
<text transform="translate(1324.5,603) rotate(-90) scale(1.0000,1.0400)" x="-38.52" font-size="19" stroke="#000" stroke-width="0.22" fill="#000">pmol/min</text>
<text transform="translate(1540.59,505.31) scale(1.0000,1.0400)" font-size="38" font-weight="bold" fill="#000">*</text>
<line x1="1818.25" y1="616" x2="1818.25" y2="633.5" stroke="#000" stroke-width="1.8" stroke-linecap="butt"/>
<line x1="1802.4" y1="616" x2="1834.1" y2="616" stroke="#000" stroke-width="1.8" stroke-linecap="round"/>
<rect x="1787.4" y="633.4" width="61.7" height="93.4" fill="#fff" stroke="#000" stroke-width="1.8"/>
<line x1="1916.25" y1="464" x2="1916.25" y2="476.5" stroke="#000" stroke-width="1.8" stroke-linecap="butt"/>
<line x1="1900.4" y1="464" x2="1932.1" y2="464" stroke="#000" stroke-width="1.8" stroke-linecap="round"/>
<rect x="1884.9" y="476.4" width="62.7" height="250.4" fill="#c0c0c0" stroke="#000" stroke-width="1.8"/>
<line x1="1736.1" y1="441.65" x2="1736.1" y2="729.2" stroke="#000" stroke-width="3" stroke-linecap="butt"/>
<line x1="1732.2" y1="727.7" x2="1997" y2="727.7" stroke="#000" stroke-width="3" stroke-linecap="butt"/>
<line x1="1732.2" y1="443.6" x2="1736.1" y2="443.6" stroke="#000" stroke-width="2.7" stroke-linecap="butt"/>
<text transform="translate(1700.72,449.61) scale(1.0000,1.0400)" font-size="16.8" stroke="#000" stroke-width="0.22" fill="#000">100</text>
<line x1="1732.2" y1="500.4" x2="1736.1" y2="500.4" stroke="#000" stroke-width="2.7" stroke-linecap="butt"/>
<text transform="translate(1710.08,506.41) scale(1.0000,1.0400)" font-size="16.8" stroke="#000" stroke-width="0.22" fill="#000">80</text>
<line x1="1732.2" y1="557.3" x2="1736.1" y2="557.3" stroke="#000" stroke-width="2.7" stroke-linecap="butt"/>
<text transform="translate(1710.08,563.31) scale(1.0000,1.0400)" font-size="16.8" stroke="#000" stroke-width="0.22" fill="#000">60</text>
<line x1="1732.2" y1="614.1" x2="1736.1" y2="614.1" stroke="#000" stroke-width="2.7" stroke-linecap="butt"/>
<text transform="translate(1710.08,620.11) scale(1.0000,1.0400)" font-size="16.8" stroke="#000" stroke-width="0.22" fill="#000">40</text>
<line x1="1732.2" y1="670.9" x2="1736.1" y2="670.9" stroke="#000" stroke-width="2.7" stroke-linecap="butt"/>
<text transform="translate(1710.08,676.91) scale(1.0000,1.0400)" font-size="16.8" stroke="#000" stroke-width="0.22" fill="#000">20</text>
<text transform="translate(1719.41,733.71) scale(1.0000,1.0400)" font-size="16.8" stroke="#000" stroke-width="0.22" fill="#000">0</text>
<line x1="1818" y1="727.7" x2="1818" y2="731.7" stroke="#000" stroke-width="3" stroke-linecap="butt"/>
<line x1="1916" y1="727.7" x2="1916" y2="731.7" stroke="#000" stroke-width="3" stroke-linecap="butt"/>
<text transform="translate(1648.16,419.5) scale(1.0000,1.0400)" font-size="42" font-weight="bold" fill="#231f20">L</text>
<text transform="translate(1801.83,423.7) scale(1.0000,1.0400)" font-size="22" font-weight="bold" fill="#000">LDH Activity</text>
<text transform="translate(1702,581) rotate(-90) scale(1.0000,1.0400)" x="-47.83" font-size="19" stroke="#000" stroke-width="0.22" fill="#000">milliunit/mL</text>
<text transform="translate(1908.59,467.81) scale(1.0000,1.0400)" font-size="38" font-weight="bold" fill="#000">*</text>
<line x1="167" y1="1085" x2="167" y2="1106" stroke="#000" stroke-width="2.4" stroke-linecap="butt"/>
<line x1="156.7" y1="1085" x2="177.8" y2="1085" stroke="#000" stroke-width="2.4" stroke-linecap="round"/>
<rect x="147.25" y="1106.25" width="39.5" height="123.9" fill="#fff" stroke="#000" stroke-width="2.5"/>
<line x1="231.75" y1="932.5" x2="231.75" y2="966" stroke="#000" stroke-width="2.4" stroke-linecap="butt"/>
<line x1="221" y1="932.5" x2="242.6" y2="932.5" stroke="#000" stroke-width="2.4" stroke-linecap="round"/>
<rect x="210" y="965" width="43.5" height="266.4" fill="#000"/>
<line x1="339.5" y1="1092" x2="339.5" y2="1109" stroke="#000" stroke-width="2.4" stroke-linecap="butt"/>
<line x1="329.2" y1="1092" x2="349.8" y2="1092" stroke="#000" stroke-width="2.4" stroke-linecap="round"/>
<rect x="320.25" y="1109.25" width="38.5" height="120.9" fill="#fff" stroke="#000" stroke-width="2.5"/>
<line x1="403.75" y1="1088" x2="403.75" y2="1105" stroke="#000" stroke-width="2.4" stroke-linecap="butt"/>
<line x1="393.2" y1="1088" x2="413.8" y2="1088" stroke="#000" stroke-width="2.4" stroke-linecap="round"/>
<rect x="382.5" y="1104" width="42.5" height="127.4" fill="#000"/>
<line x1="512" y1="1048" x2="512" y2="1083.5" stroke="#000" stroke-width="2.4" stroke-linecap="butt"/>
<line x1="501.7" y1="1048" x2="522.8" y2="1048" stroke="#000" stroke-width="2.4" stroke-linecap="round"/>
<rect x="492.25" y="1083.75" width="39.5" height="146.4" fill="#fff" stroke="#000" stroke-width="2.5"/>
<line x1="576.75" y1="1079.5" x2="576.75" y2="1087" stroke="#000" stroke-width="2.4" stroke-linecap="butt"/>
<line x1="566.2" y1="1079.5" x2="586.8" y2="1079.5" stroke="#000" stroke-width="2.4" stroke-linecap="round"/>
<rect x="555.5" y="1086" width="42.5" height="145.4" fill="#000"/>
<line x1="113.4" y1="862.6" x2="113.4" y2="1232.95" stroke="#000" stroke-width="3.1" stroke-linecap="butt"/>
<line x1="109" y1="1231.4" x2="630.5" y2="1231.4" stroke="#000" stroke-width="3.1" stroke-linecap="butt"/>
<line x1="109" y1="864.5" x2="113.4" y2="864.5" stroke="#000" stroke-width="2.8" stroke-linecap="butt"/>
<text transform="translate(67.03,873.27) scale(1.0900,1.0400)" font-size="24.5" stroke="#000" stroke-width="0.22" fill="#000">25</text>
<line x1="109" y1="986.7" x2="113.4" y2="986.7" stroke="#000" stroke-width="2.8" stroke-linecap="butt"/>
<text transform="translate(66.96,995.47) scale(1.0900,1.0400)" font-size="24.5" stroke="#000" stroke-width="0.22" fill="#000">20</text>
<line x1="109" y1="1108.8" x2="113.4" y2="1108.8" stroke="#000" stroke-width="2.8" stroke-linecap="butt"/>
<text transform="translate(67.03,1117.57) scale(1.0900,1.0400)" font-size="24.5" stroke="#000" stroke-width="0.22" fill="#000">15</text>
<text transform="translate(66.96,1239.77) scale(1.0900,1.0400)" font-size="24.5" stroke="#000" stroke-width="0.22" fill="#000">10</text>
<line x1="167" y1="1231.4" x2="167" y2="1236" stroke="#000" stroke-width="3.1" stroke-linecap="butt"/>
<line x1="231" y1="1231.4" x2="231" y2="1236" stroke="#000" stroke-width="3.1" stroke-linecap="butt"/>
<line x1="339" y1="1231.4" x2="339" y2="1236" stroke="#000" stroke-width="3.1" stroke-linecap="butt"/>
<line x1="403" y1="1231.4" x2="403" y2="1236" stroke="#000" stroke-width="3.1" stroke-linecap="butt"/>
<line x1="512" y1="1231.4" x2="512" y2="1236" stroke="#000" stroke-width="3.1" stroke-linecap="butt"/>
<line x1="577" y1="1231.4" x2="577" y2="1236" stroke="#000" stroke-width="3.1" stroke-linecap="butt"/>
<text transform="translate(-0.33,813) scale(1.0000,1.0400)" font-size="42" font-weight="bold" fill="#231f20">M</text>
<text transform="translate(324.43,820.7) scale(1.1213,1.0400)" font-size="24" font-weight="bold" fill="#000">Lactate</text>
<text transform="translate(56,1038) rotate(-90) scale(1.0000,1.0400)" x="-73.11" font-size="24" stroke="#000" stroke-width="0.22" fill="#000">nmole/mg/mL</text>
<text transform="translate(222.81,937.42) scale(1.0000,1.0400)" font-size="43" font-weight="bold" fill="#000">*</text>
<text transform="translate(341.74,1056) scale(1.1100,1.0400)" font-size="28" stroke="#000" stroke-width="0.22" fill="#000">N.D.</text>
<line x1="315.35" y1="1068" x2="423.15" y2="1068" stroke="#000" stroke-width="2.7" stroke-linecap="round"/>
<text transform="translate(516.04,1018) scale(1.1100,1.0400)" font-size="28" stroke="#000" stroke-width="0.22" fill="#000">N.D.</text>
<line x1="488.85" y1="1030" x2="597.65" y2="1030" stroke="#000" stroke-width="2.7" stroke-linecap="round"/>
<rect x="476.5" y="890.5" width="14.5" height="20.5" fill="#fff" stroke="#000" stroke-width="2"/>
<rect x="475.5" y="919" width="16.5" height="23" fill="#000"/>
<text transform="translate(499.89,908) scale(1.0000,1.0400)" font-size="22.5" stroke="#000" stroke-width="0.22" fill="#000">WT</text>
<text transform="translate(498.14,937.5) scale(1.0000,1.0400)" font-size="22.5" stroke="#000" stroke-width="0.22" fill="#000">LANCL2-/-</text>
<line x1="146.35" y1="1246.5" x2="253.15" y2="1246.5" stroke="#000" stroke-width="2.7" stroke-linecap="round"/>
<line x1="317.35" y1="1246.5" x2="424.65" y2="1246.5" stroke="#000" stroke-width="2.7" stroke-linecap="round"/>
<line x1="490.85" y1="1246.5" x2="597.65" y2="1246.5" stroke="#000" stroke-width="2.7" stroke-linecap="round"/>
<text transform="translate(158.49,1270.8) scale(1.0000,1.0400)" font-size="20.8" stroke="#000" stroke-width="0.22" fill="#000">Untreated</text>
<text transform="translate(344.82,1270.8) scale(1.0000,1.0400)" font-size="20.8" stroke="#000" stroke-width="0.22" fill="#000">0.5μM</text>
<text transform="translate(526.64,1270.8) scale(1.0000,1.0400)" font-size="20.8" stroke="#000" stroke-width="0.22" fill="#000">1μM</text>
<line x1="318.85" y1="1280" x2="610.65" y2="1280" stroke="#000" stroke-width="2.7" stroke-linecap="round"/>
<text transform="translate(398.7,1304) scale(1.0923,1.0400)" font-size="20.5" stroke="#000" stroke-width="0.22" fill="#000">Forskolin</text>
<line x1="872" y1="983" x2="872" y2="1012" stroke="#000" stroke-width="2.4" stroke-linecap="butt"/>
<line x1="858.2" y1="983" x2="884.8" y2="983" stroke="#000" stroke-width="2.4" stroke-linecap="round"/>
<rect x="846.25" y="1012.25" width="51.5" height="217.9" fill="#fff" stroke="#000" stroke-width="2.5"/>
<line x1="955" y1="901" x2="955" y2="909" stroke="#000" stroke-width="2.4" stroke-linecap="butt"/>
<line x1="941.2" y1="901" x2="968.3" y2="901" stroke="#000" stroke-width="2.4" stroke-linecap="round"/>
<rect x="927.5" y="908" width="55" height="323.4" fill="#000"/>
<line x1="1094.25" y1="1133" x2="1094.25" y2="1152.5" stroke="#000" stroke-width="2.4" stroke-linecap="butt"/>
<line x1="1080.2" y1="1133" x2="1106.8" y2="1133" stroke="#000" stroke-width="2.4" stroke-linecap="round"/>
<rect x="1068.75" y="1152.75" width="51" height="77.4" fill="#fff" stroke="#000" stroke-width="2.5"/>
<line x1="1176.75" y1="1088" x2="1176.75" y2="1105.5" stroke="#000" stroke-width="2.4" stroke-linecap="butt"/>
<line x1="1163.2" y1="1088" x2="1190.8" y2="1088" stroke="#000" stroke-width="2.4" stroke-linecap="round"/>
<rect x="1149" y="1104.5" width="55.5" height="126.9" fill="#000"/>
<line x1="802.8" y1="866.1" x2="802.8" y2="1232.95" stroke="#000" stroke-width="3.1" stroke-linecap="butt"/>
<line x1="798.4" y1="1231.4" x2="1246" y2="1231.4" stroke="#000" stroke-width="3.1" stroke-linecap="butt"/>
<line x1="798.4" y1="868" x2="802.8" y2="868" stroke="#000" stroke-width="2.8" stroke-linecap="butt"/>
<text transform="translate(757.45,876.77) scale(1.0900,1.0400)" font-size="24.5" stroke="#000" stroke-width="0.22" fill="#000">3.5</text>
<line x1="798.4" y1="919.9" x2="802.8" y2="919.9" stroke="#000" stroke-width="2.8" stroke-linecap="butt"/>
<text transform="translate(757.38,928.67) scale(1.0900,1.0400)" font-size="24.5" stroke="#000" stroke-width="0.22" fill="#000">3.0</text>
<line x1="798.4" y1="971.7" x2="802.8" y2="971.7" stroke="#000" stroke-width="2.8" stroke-linecap="butt"/>
<text transform="translate(757.45,980.47) scale(1.0900,1.0400)" font-size="24.5" stroke="#000" stroke-width="0.22" fill="#000">2.5</text>
<line x1="798.4" y1="1023.6" x2="802.8" y2="1023.6" stroke="#000" stroke-width="2.8" stroke-linecap="butt"/>
<text transform="translate(757.38,1032.37) scale(1.0900,1.0400)" font-size="24.5" stroke="#000" stroke-width="0.22" fill="#000">2.0</text>
<line x1="798.4" y1="1075.4" x2="802.8" y2="1075.4" stroke="#000" stroke-width="2.8" stroke-linecap="butt"/>
<text transform="translate(757.45,1084.17) scale(1.0900,1.0400)" font-size="24.5" stroke="#000" stroke-width="0.22" fill="#000">1.5</text>
<line x1="798.4" y1="1127.3" x2="802.8" y2="1127.3" stroke="#000" stroke-width="2.8" stroke-linecap="butt"/>
<text transform="translate(757.38,1136.07) scale(1.0900,1.0400)" font-size="24.5" stroke="#000" stroke-width="0.22" fill="#000">1.0</text>
<line x1="798.4" y1="1179.1" x2="802.8" y2="1179.1" stroke="#000" stroke-width="2.8" stroke-linecap="butt"/>
<text transform="translate(757.45,1187.87) scale(1.0900,1.0400)" font-size="24.5" stroke="#000" stroke-width="0.22" fill="#000">0.5</text>
<text transform="translate(757.38,1239.77) scale(1.0900,1.0400)" font-size="24.5" stroke="#000" stroke-width="0.22" fill="#000">0.0</text>
<line x1="872" y1="1231.4" x2="872" y2="1236" stroke="#000" stroke-width="3.1" stroke-linecap="butt"/>
<line x1="955.5" y1="1231.4" x2="955.5" y2="1236" stroke="#000" stroke-width="3.1" stroke-linecap="butt"/>
<line x1="1093" y1="1231.4" x2="1093" y2="1236" stroke="#000" stroke-width="3.1" stroke-linecap="butt"/>
<line x1="1176" y1="1231.4" x2="1176" y2="1236" stroke="#000" stroke-width="3.1" stroke-linecap="butt"/>
<text transform="translate(679.66,813) scale(1.0000,1.0400)" font-size="42" font-weight="bold" fill="#231f20">N</text>
<text transform="translate(894.18,819.5) scale(1.0856,1.0400)" font-size="25.5" font-weight="bold" fill="#000">Hexokinase Activity</text>
<text transform="translate(738.5,1040) rotate(-90) scale(1.0000,1.0400)" x="-67.44" font-size="24.5" stroke="#000" stroke-width="0.22" fill="#000">milliunits/mg</text>
<text transform="translate(946.62,906.62) scale(1.0000,1.0400)" font-size="43" font-weight="bold" fill="#000">*</text>
<text transform="translate(1110.74,1064) scale(1.1100,1.0400)" font-size="28" stroke="#000" stroke-width="0.22" fill="#000">N.D.</text>
<line x1="1084.35" y1="1075" x2="1191.15" y2="1075" stroke="#000" stroke-width="2.7" stroke-linecap="round"/>
<line x1="835.85" y1="1244.5" x2="989.65" y2="1244.5" stroke="#000" stroke-width="2.7" stroke-linecap="round"/>
<line x1="1059.35" y1="1244.5" x2="1215.65" y2="1244.5" stroke="#000" stroke-width="2.7" stroke-linecap="round"/>
<text transform="translate(861.17,1266) scale(1.0924,1.0400)" font-size="21" stroke="#000" stroke-width="0.22" fill="#000">Untreated</text>
<text transform="translate(1063.1,1266) scale(1.0980,1.0400)" font-size="21" stroke="#000" stroke-width="0.22" fill="#000">Forskolin 1uM</text>
<line x1="1423.75" y1="924.5" x2="1423.75" y2="933.5" stroke="#000" stroke-width="2.2" stroke-linecap="butt"/>
<line x1="1415.1" y1="924.5" x2="1432.9" y2="924.5" stroke="#000" stroke-width="2.2" stroke-linecap="round"/>
<rect x="1406.2" y="933.7" width="35.1" height="297.5" fill="#fff" stroke="#000" stroke-width="2.4"/>
<line x1="1480.75" y1="865" x2="1480.75" y2="870.5" stroke="#000" stroke-width="2.2" stroke-linecap="butt"/>
<line x1="1471.6" y1="865" x2="1489.4" y2="865" stroke="#000" stroke-width="2.2" stroke-linecap="round"/>
<rect x="1462" y="869.5" width="37.5" height="362.9" fill="#000"/>
<line x1="1576.25" y1="949.5" x2="1576.25" y2="971.5" stroke="#000" stroke-width="2.2" stroke-linecap="butt"/>
<line x1="1567.1" y1="949.5" x2="1584.9" y2="949.5" stroke="#000" stroke-width="2.2" stroke-linecap="round"/>
<rect x="1558.7" y="971.7" width="35.1" height="259.5" fill="#fff" stroke="#000" stroke-width="2.4"/>
<line x1="1633" y1="966" x2="1633" y2="974" stroke="#000" stroke-width="2.2" stroke-linecap="butt"/>
<line x1="1624.1" y1="966" x2="1641.9" y2="966" stroke="#000" stroke-width="2.2" stroke-linecap="round"/>
<rect x="1614" y="973" width="38" height="259.4" fill="#000"/>
<line x1="1728.5" y1="1120.7" x2="1728.5" y2="1126.7" stroke="#000" stroke-width="2.2" stroke-linecap="butt"/>
<line x1="1719.6" y1="1120.7" x2="1737.4" y2="1120.7" stroke="#000" stroke-width="2.2" stroke-linecap="round"/>
<rect x="1711.2" y="1126.9" width="34.6" height="104.3" fill="#fff" stroke="#000" stroke-width="2.4"/>
<line x1="1785.5" y1="1108.5" x2="1785.5" y2="1114" stroke="#000" stroke-width="2.2" stroke-linecap="butt"/>
<line x1="1777.1" y1="1108.5" x2="1793.9" y2="1108.5" stroke="#000" stroke-width="2.2" stroke-linecap="round"/>
<rect x="1766.5" y="1113" width="38" height="119.4" fill="#000"/>
<line x1="1880.75" y1="1158.5" x2="1880.75" y2="1164.5" stroke="#000" stroke-width="2.2" stroke-linecap="butt"/>
<line x1="1872.1" y1="1158.5" x2="1889.9" y2="1158.5" stroke="#000" stroke-width="2.2" stroke-linecap="round"/>
<rect x="1863.2" y="1164.7" width="35.1" height="66.5" fill="#fff" stroke="#000" stroke-width="2.4"/>
<line x1="1938" y1="1163" x2="1938" y2="1167.5" stroke="#000" stroke-width="2.2" stroke-linecap="butt"/>
<line x1="1929.1" y1="1163" x2="1946.9" y2="1163" stroke="#000" stroke-width="2.2" stroke-linecap="round"/>
<rect x="1919" y="1166.5" width="38" height="65.9" fill="#000"/>
<line x1="1376.3" y1="851.1" x2="1376.3" y2="1233.9" stroke="#000" stroke-width="3" stroke-linecap="butt"/>
<line x1="1372.1" y1="1232.4" x2="1985" y2="1232.4" stroke="#000" stroke-width="3" stroke-linecap="butt"/>
<line x1="1372.1" y1="853" x2="1376.3" y2="853" stroke="#000" stroke-width="2.8" stroke-linecap="butt"/>
<text transform="translate(1357.49,860.51) scale(1.0000,1.0400)" font-size="21" stroke="#000" stroke-width="0.22" fill="#000">7</text>
<line x1="1372.1" y1="907.1" x2="1376.3" y2="907.1" stroke="#000" stroke-width="2.8" stroke-linecap="butt"/>
<text transform="translate(1357.34,914.61) scale(1.0000,1.0400)" font-size="21" stroke="#000" stroke-width="0.22" fill="#000">6</text>
<line x1="1372.1" y1="961.3" x2="1376.3" y2="961.3" stroke="#000" stroke-width="2.8" stroke-linecap="butt"/>
<text transform="translate(1357.28,968.81) scale(1.0000,1.0400)" font-size="21" stroke="#000" stroke-width="0.22" fill="#000">5</text>
<line x1="1372.1" y1="1015.4" x2="1376.3" y2="1015.4" stroke="#000" stroke-width="2.8" stroke-linecap="butt"/>
<text transform="translate(1357.02,1022.91) scale(1.0000,1.0400)" font-size="21" stroke="#000" stroke-width="0.22" fill="#000">4</text>
<line x1="1372.1" y1="1069.6" x2="1376.3" y2="1069.6" stroke="#000" stroke-width="2.8" stroke-linecap="butt"/>
<text transform="translate(1357.34,1077.11) scale(1.0000,1.0400)" font-size="21" stroke="#000" stroke-width="0.22" fill="#000">3</text>
<line x1="1372.1" y1="1123.7" x2="1376.3" y2="1123.7" stroke="#000" stroke-width="2.8" stroke-linecap="butt"/>
<text transform="translate(1357.49,1131.21) scale(1.0000,1.0400)" font-size="21" stroke="#000" stroke-width="0.22" fill="#000">2</text>
<line x1="1372.1" y1="1177.9" x2="1376.3" y2="1177.9" stroke="#000" stroke-width="2.8" stroke-linecap="butt"/>
<text transform="translate(1357.44,1185.41) scale(1.0000,1.0400)" font-size="21" stroke="#000" stroke-width="0.22" fill="#000">1</text>
<text transform="translate(1357.23,1239.51) scale(1.0000,1.0400)" font-size="21" stroke="#000" stroke-width="0.22" fill="#000">0</text>
<line x1="1423.5" y1="1232.4" x2="1423.5" y2="1236.8" stroke="#000" stroke-width="3" stroke-linecap="butt"/>
<line x1="1480.5" y1="1232.4" x2="1480.5" y2="1236.8" stroke="#000" stroke-width="3" stroke-linecap="butt"/>
<line x1="1575.5" y1="1232.4" x2="1575.5" y2="1236.8" stroke="#000" stroke-width="3" stroke-linecap="butt"/>
<line x1="1632.5" y1="1232.4" x2="1632.5" y2="1236.8" stroke="#000" stroke-width="3" stroke-linecap="butt"/>
<line x1="1728" y1="1232.4" x2="1728" y2="1236.8" stroke="#000" stroke-width="3" stroke-linecap="butt"/>
<line x1="1785" y1="1232.4" x2="1785" y2="1236.8" stroke="#000" stroke-width="3" stroke-linecap="butt"/>
<line x1="1881" y1="1232.4" x2="1881" y2="1236.8" stroke="#000" stroke-width="3" stroke-linecap="butt"/>
<line x1="1938" y1="1232.4" x2="1938" y2="1236.8" stroke="#000" stroke-width="3" stroke-linecap="butt"/>
<text transform="translate(1270.78,813) scale(1.0000,1.0400)" font-size="43" font-weight="bold" fill="#231f20">O</text>
<text transform="translate(1607.32,830.5) scale(1.1128,1.0400)" font-size="22.3" font-weight="bold" fill="#000">Proliferation</text>
<text transform="translate(1340,1036) rotate(-90) scale(1.0000,1.0400)" x="-90.84" font-size="22.5" stroke="#000" stroke-width="0.22" fill="#000">Proliferative Index</text>
<text transform="translate(1472.81,870.39) scale(1.0000,1.0400)" font-size="42" font-weight="bold" fill="#000">*</text>
<text transform="translate(1586.02,929.5) scale(1.1274,1.0400)" font-size="19.5" font-weight="bold" fill="#000">N.D.</text>
<line x1="1570.35" y1="936" x2="1645.65" y2="936" stroke="#000" stroke-width="2.7" stroke-linecap="round"/>
<text transform="translate(1735.52,1090.7) scale(1.1274,1.0400)" font-size="19.5" font-weight="bold" fill="#000">N.D.</text>
<line x1="1718.35" y1="1099.5" x2="1794.65" y2="1099.5" stroke="#000" stroke-width="2.7" stroke-linecap="round"/>
<text transform="translate(1887.02,1137.7) scale(1.1274,1.0400)" font-size="19.5" font-weight="bold" fill="#000">N.D.</text>
<line x1="1869.35" y1="1146.5" x2="1945.65" y2="1146.5" stroke="#000" stroke-width="2.7" stroke-linecap="round"/>
<line x1="1403.35" y1="1249" x2="1491.15" y2="1249" stroke="#000" stroke-width="2.7" stroke-linecap="round"/>
<line x1="1557.35" y1="1249" x2="1645.65" y2="1249" stroke="#000" stroke-width="2.7" stroke-linecap="round"/>
<line x1="1714.35" y1="1247.7" x2="1801.65" y2="1247.7" stroke="#000" stroke-width="2.7" stroke-linecap="round"/>
<line x1="1867.35" y1="1247.7" x2="1955.65" y2="1247.7" stroke="#000" stroke-width="2.7" stroke-linecap="round"/>
<text transform="translate(1407.73,1272.7) scale(1.0861,1.0400)" font-size="21.2" font-weight="bold" fill="#000">Vehicle</text>
<text transform="translate(1585.8,1272.5) scale(1.0998,1.0400)" font-size="21.2" font-weight="bold" fill="#000">SO</text>
<text transform="translate(1732.43,1270.5) scale(1.0634,1.0400)" font-size="21.2" font-weight="bold" fill="#000">FX11</text>
<text transform="translate(1862.07,1271.5) scale(1.0924,1.0400)" font-size="21.2" font-weight="bold" fill="#000">Gossypol</text>
</svg>
</body></html>
